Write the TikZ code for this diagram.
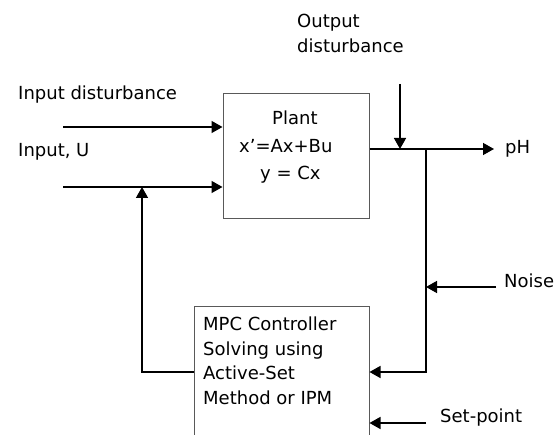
\documentclass[tikz,border=0pt]{standalone}
\usepackage{fontspec}
\setmainfont{DejaVu Sans}
\usetikzlibrary{arrows.meta,calc}
\begin{document}
\begin{tikzpicture}[x=1pt,y=-1pt,
  lbl/.style={anchor=base west,inner sep=0pt,font=\fontsize{18}{22}\selectfont},
  blk/.style={draw=black!65,line width=1pt,rectangle,inner sep=0pt},
  arr/.style={draw=black,line width=1.5pt,-{Triangle[length=11pt,width=12pt]}},
  ln/.style={draw=black,line width=1.5pt}]
\useasboundingbox (0,0) rectangle (558,435);
% blocks
\node[blk,minimum width=146pt,minimum height=125pt] (plant) at (296,156.5) {};
\node[blk,minimum width=175pt,minimum height=130pt] (ctrl) at (281.5,372) {};
% plant text
\node[lbl] (p1) at (272,125) {Plant};
\node[lbl] (p2) at (239,153) {x’=Ax+Bu};
\node[lbl] (p3) at (260,180) {y = Cx};
% controller text
\node[lbl] (c1) at (203,331) {MPC Controller};
\node[lbl] (c2) at (203,355.5) {Solving using};
\node[lbl] (c3) at (203,380) {Active-Set};
\node[lbl] (c4) at (203,404.5) {Method or IPM};
% labels
\node[lbl] (tid) at (18,100) {Input disturbance};
\node[lbl] (tu) at (18,157) {Input, U};
\node[lbl] (tod1) at (297,28) {Output};
\node[lbl] (tod2) at (297,53) {disturbance};
\node[lbl] (tph) at (505,154) {pH};
\node[lbl] (tnz) at (504,288) {Noise};
\node[lbl] (tsp) at (440,423) {Set-point};
% coordinates
\coordinate (idin) at (63,127);
\coordinate (uin) at (63,187);
\coordinate (fb) at (142,187);
\coordinate (yout) at (494,149);
\coordinate (od) at (400,84);
\coordinate (br) at (426,149);
\coordinate (nz) at (496,287);
\coordinate (sp) at (426,423);
% connectors
\draw[arr] (idin) -- (idin -| plant.west);
\draw[arr] (uin) -- (uin -| plant.west);
\draw[arr] (ctrl.west) -| (fb);
\draw[arr] (plant.east |- yout) -- (yout);
\draw[arr] (od) -- (od |- yout);
\draw[arr] (br) |- (ctrl.east);
\draw[arr] (nz) -- (br |- nz);
\draw[arr] (sp) -- (ctrl.east |- sp);
\end{tikzpicture}
\end{document}
